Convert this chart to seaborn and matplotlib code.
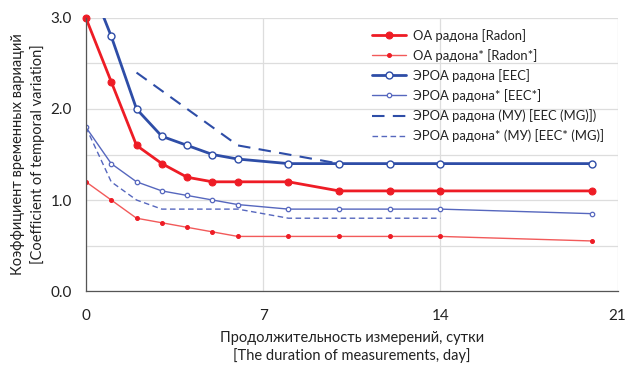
import matplotlib
matplotlib.use("Agg")
import matplotlib.pyplot as plt
import seaborn as sns
import pandas as pd

# Measurement durations, days
days = [0, 1, 2, 3, 4, 5, 6, 8, 10, 12, 14, 20]

radon = [3.0, 2.3, 1.6, 1.4, 1.25, 1.2, 1.2, 1.2, 1.1, 1.1, 1.1, 1.1]
radon_star = [1.2, 1.0, 0.8, 0.75, 0.7, 0.65, 0.6, 0.6, 0.6, 0.6, 0.6, 0.55]
eec = [3.5, 2.8, 2.0, 1.7, 1.6, 1.5, 1.45, 1.4, 1.4, 1.4, 1.4, 1.4]
eec_star = [1.8, 1.4, 1.2, 1.1, 1.05, 1.0, 0.95, 0.9, 0.9, 0.9, 0.9, 0.85]

days_mg = [2, 3, 4, 5, 6, 8, 10]
eec_mg = [2.4, 2.2, 2.0, 1.8, 1.6, 1.5, 1.4]

days_mg_star = [0, 1, 2, 3, 4, 5, 6, 8, 10, 12, 14]
eec_mg_star = [1.8, 1.2, 1.0, 0.9, 0.9, 0.9, 0.9, 0.8, 0.8, 0.8, 0.8]

labels = [
    "ОА радона [Radon]",
    "ОА радона* [Radon*]",
    "ЭРОА радона [EEC]",
    "ЭРОА радона* [EEC*]",
    "ЭРОА радона (МУ) [EEC (MG)])",
    "ЭРОА радона* (МУ) [EEC* (MG)]",
]

sns.set_theme(style="white")
plt.rcParams["font.family"] = ["Lato", "DejaVu Sans"]

fig = plt.figure(figsize=(6.27, 3.67), dpi=100)
ax = fig.add_axes([0.137, 0.207, 0.848, 0.744])

red = "#EE1C25"
red_light = "#F25A5A"
blue = "#2E4DA7"
blue_light = "#5667BE"

series = [
    (days, radon, labels[0], dict(color=red, linewidth=2.0, marker="o", markersize=5,
                                  markerfacecolor=red, markeredgecolor=red, clip_on=False)),
    (days, radon_star, labels[1], dict(color=red_light, linewidth=1.0, marker="o", markersize=2.8,
                                       markerfacecolor=red, markeredgecolor=red)),
    (days, eec, labels[2], dict(color=blue, linewidth=2.0, marker="o", markersize=5,
                                markerfacecolor="white", markeredgecolor=blue, markeredgewidth=1.0)),
    (days, eec_star, labels[3], dict(color=blue_light, linewidth=1.0, marker="o", markersize=3.2,
                                     markerfacecolor="white", markeredgecolor=blue_light, markeredgewidth=0.9)),
    (days_mg, eec_mg, labels[4], dict(color=blue, linewidth=1.5, dashes=(6, 4))),
    (days_mg_star, eec_mg_star, labels[5], dict(color=blue_light, linewidth=1.0, dashes=(4, 2.5))),
]

for xs, ys, lab, kw in series:
    df = pd.DataFrame({"day": xs, "cv": ys})
    sns.lineplot(data=df, x="day", y="cv", ax=ax, label=lab, **kw)

ax.set_xlim(0, 21)
ax.set_ylim(0, 3.0)
ax.set_xticks([0, 7, 14, 21])
ax.set_yticks([0, 0.5, 1.0, 1.5, 2.0, 2.5, 3.0])
ax.set_yticklabels(["0.0", "", "1.0", "", "2.0", "", "3.0"])
ax.grid(True, color="#DDDDDD", linewidth=0.9)
ax.set_axisbelow(True)

for side in ("top", "right"):
    ax.spines[side].set_visible(False)
for side in ("left", "bottom"):
    ax.spines[side].set_color("#555555")
    ax.spines[side].set_linewidth(0.9)

ax.tick_params(axis="both", which="major", direction="out", length=4, width=0.9,
               color="#555555", labelsize=11, labelcolor="#222222")
ax.tick_params(axis="x", pad=9)
ax.tick_params(axis="y", pad=6)

ax.set_xlabel("Продолжительность измерений, сутки\n[The duration of measurements, day]",
              fontsize=10.5, color="#222222", linespacing=1.25, labelpad=6)
ax.set_ylabel("Коэффициент временных вариаций\n[Coefficient of temporal variation]",
              fontsize=10.5, color="#222222", linespacing=1.45, labelpad=4)

leg = ax.legend(loc="upper right", bbox_to_anchor=(0.99, 0.99), frameon=False,
                fontsize=9.4, handlelength=2.6, handletextpad=0.6,
                labelspacing=0.55, borderaxespad=0.2)
for t in leg.get_texts():
    t.set_color("#222222")

fig.savefig("out.png", dpi=100)
